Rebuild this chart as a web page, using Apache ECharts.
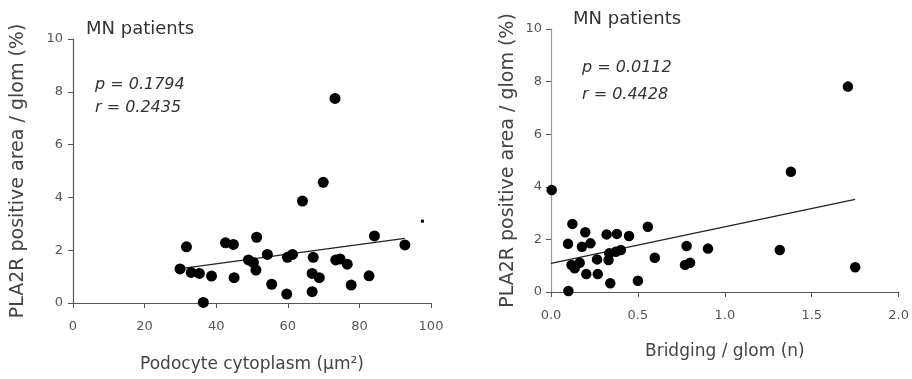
<!DOCTYPE html>
<html><head><meta charset="utf-8">
<script src="https://cdn.jsdelivr.net/npm/echarts@6/dist/echarts.min.js"></script>
<style>html,body{margin:0;padding:0;background:#fff}#c{width:912px;height:379px}</style>
</head><body><div id="c"></div>
<script>
// Left panel: Podocyte cytoplasm (µm²) vs PLA2R positive area / glom (%)
const leftX = [29.9,31.7,33.0,35.3,36.4,38.7,42.6,44.8,45.0,49.0,50.4,51.1,51.3,54.3,55.5,59.7,59.9,61.3,64.1,66.8,67.1,66.8,68.8,69.9,73.2,73.4,74.6,76.6,77.7,82.7,84.2,92.7];
const leftY = [1.29,2.13,1.16,1.12,0.02,1.02,2.28,2.22,0.96,1.63,1.53,1.25,2.49,1.84,0.71,0.34,1.73,1.84,3.86,0.43,1.73,1.12,0.96,4.57,7.75,1.63,1.67,1.47,0.68,1.03,2.54,2.20];
const leftStray = [[97.6, 3.1]];
const leftFitX = [30, 92.7];
const leftFitY = [1.30, 2.45];
// Right panel: Bridging / glom (n) vs PLA2R positive area / glom (%)
const rightX = [0.004,0.098,0.10,0.123,0.118,0.136,0.165,0.178,0.197,0.203,0.227,0.265,0.269,0.32,0.331,0.335,0.341,0.379,0.373,0.402,0.449,0.50,0.557,0.597,0.78,0.771,0.80,0.903,1.316,1.38,1.708,1.75];
const rightY = [3.88,1.83,0.04,2.59,1.03,0.90,1.11,1.72,2.27,0.68,1.85,1.24,0.68,2.19,1.22,1.47,0.33,2.21,1.53,1.60,2.13,0.43,2.48,1.30,1.75,1.03,1.11,1.65,1.60,4.57,7.81,0.94];
const rightFitX = [0, 1.75];
const rightFitY = [1.09, 3.52];
const yTitle = 'PLA2R positive area / glom (%)';
const leftXTitle = 'Podocyte cytoplasm (μm²)';
const rightXTitle = 'Bridging / glom (n)';
const leftStats = ['p = 0.1794', 'r = 0.2435'];
const rightStats = ['p = 0.0112', 'r = 0.4428'];
const panelTitle = 'MN patients';

const zip = (a, b) => a.map((v, i) => [v, b[i]]);
const F = '"DejaVu Sans", sans-serif';
const axisLine = {lineStyle: {color: '#555', width: 1.2}};
const tick = {show: true, length: 5, lineStyle: {color: '#555'}};
const lbl = {color: '#555', fontSize: 13, fontFamily: F};
const xName = {color: '#444', fontSize: 17, fontFamily: F};
const yName = {color: '#444', fontSize: 19, fontFamily: F};

const chart = echarts.init(document.getElementById('c'));
chart.setOption({
  animation: false,
  grid: [
    {left: 73, right: 481, top: 39, bottom: 76},
    {left: 551, right: 9, top: 29, bottom: 87}
  ],
  xAxis: [
    {gridIndex: 0, type: 'value', min: 0, max: 100, interval: 20, axisLine, axisTick: tick,
     splitLine: {show: false}, axisLabel: {...lbl, margin: 17},
     name: leftXTitle, nameLocation: 'middle', nameGap: 53, nameTextStyle: xName},
    {gridIndex: 1, type: 'value', min: 0, max: 2, interval: 0.5, axisLine, axisTick: tick,
     splitLine: {show: false}, axisLabel: {...lbl, margin: 17, formatter: v => v.toFixed(1)},
     name: rightXTitle, nameLocation: 'middle', nameGap: 51, nameTextStyle: xName}
  ],
  yAxis: [
    {gridIndex: 0, type: 'value', min: 0, max: 10, interval: 2, axisLine: {show: true, ...axisLine}, axisTick: tick,
     splitLine: {show: false}, axisLabel: {...lbl, margin: 10},
     name: yTitle, nameLocation: 'middle', nameGap: 45, nameTextStyle: yName},
    {gridIndex: 1, type: 'value', min: 0, max: 10, interval: 2, axisLine: {show: true, lineStyle: {color: '#999', width: 1.2}}, axisTick: tick,
     splitLine: {show: false}, axisLabel: {...lbl, margin: 9},
     name: yTitle, nameLocation: 'middle', nameGap: 33, nameTextStyle: yName}
  ],
  graphic: [
    {type: 'text', left: 86, top: 20, style: {text: panelTitle, font: '18px ' + F, fill: '#333'}},
    {type: 'text', left: 95, top: 77, style: {text: leftStats[0], font: 'italic 16px ' + F, fill: '#333'}},
    {type: 'text', left: 95, top: 100, style: {text: leftStats[1], font: 'italic 16px ' + F, fill: '#333'}},
    {type: 'text', left: 573, top: 10, style: {text: panelTitle, font: '18px ' + F, fill: '#333'}},
    {type: 'text', left: 582, top: 60, style: {text: rightStats[0], font: 'italic 16px ' + F, fill: '#333'}},
    {type: 'text', left: 582, top: 87, style: {text: rightStats[1], font: 'italic 16px ' + F, fill: '#333'}}
  ],
  series: [
    {type: 'line', xAxisIndex: 0, yAxisIndex: 0, data: zip(leftFitX, leftFitY), symbol: 'none',
     lineStyle: {color: '#222', width: 1.2}, z: 1},
    {type: 'scatter', xAxisIndex: 0, yAxisIndex: 0, data: zip(leftX, leftY), symbolSize: 11,
     itemStyle: {color: '#000', opacity: 1}, z: 2},
    {type: 'scatter', xAxisIndex: 0, yAxisIndex: 0, data: leftStray, symbol: 'rect', symbolSize: 3,
     itemStyle: {color: '#000', opacity: 1}, z: 2},
    {type: 'line', xAxisIndex: 1, yAxisIndex: 1, data: zip(rightFitX, rightFitY), symbol: 'none',
     lineStyle: {color: '#222', width: 1.2}, z: 1},
    {type: 'scatter', xAxisIndex: 1, yAxisIndex: 1, data: zip(rightX, rightY), symbolSize: 10.5,
     itemStyle: {color: '#000', opacity: 1}, z: 2}
  ]
});
</script></body></html>
